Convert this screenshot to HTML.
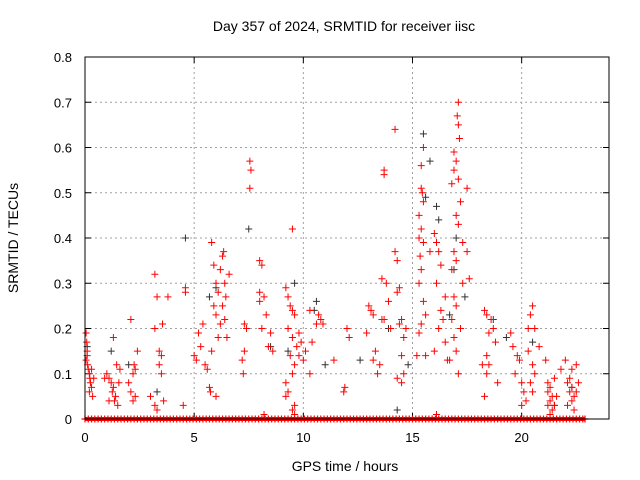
<!DOCTYPE html>
<html><head><meta charset="utf-8"><style>
body{margin:0;background:#fff}
svg{display:block;font-family:"Liberation Sans",sans-serif}
</style></head><body>
<svg id="chart" width="640" height="480">
<text x="344" y="31" font-size="14" text-anchor="middle">Day 357 of 2024, SRMTID for receiver iisc</text>
<text x="345" y="471" font-size="14" text-anchor="middle">GPS time / hours</text>
<text transform="translate(18,238) rotate(-90)" font-size="14" text-anchor="middle">SRMTID / TECUs</text>
<g id="grid"></g>
<g id="ticks"></g>
<g id="marks"></g>
<rect x="85" y="57" width="524" height="362" fill="none" stroke="#000"/>
</svg>
<script>
const xTicks=[0,5,10,15,20];
const yTicks=[0,0.1,0.2,0.3,0.4,0.5,0.6,0.7,0.8];
const redPts=[[0.05,0.19],[0.08,0.17],[0.1,0.15],[0.12,0.12],[0.15,0.11],[0.2,0.1],[0.22,0.09],[0.25,0.08],[0.3,0.07],[0.2,0.06],[0.35,0.05],[0.05,0.13],[0.1,0.14],[0.4,0.09],[0.3,0.11],
[1.0,0.1],[1.1,0.09],[1.2,0.08],[1.3,0.07],[1.25,0.06],[1.4,0.05],[1.35,0.04],[1.5,0.03],[1.45,0.12],[1.3,0.18],[1.6,0.11],[1.55,0.08],[1.1,0.04],[0.9,0.09],
[2.1,0.22],[2.2,0.1],[2.3,0.11],[2.25,0.12],[2.0,0.08],[2.1,0.06],[2.3,0.05],[2.2,0.04],[2.4,0.15],
[3.2,0.32],[3.3,0.27],[3.2,0.2],[3.4,0.15],[3.5,0.14],[3.4,0.12],[3.5,0.1],[3.0,0.05],[3.2,0.03],[3.3,0.02],[3.55,0.21],[3.8,0.27],[3.6,0.04],
[4.5,0.03],[4.6,0.28],[4.6,0.29],
[5.0,0.14],[5.1,0.13],[5.2,0.19],[5.4,0.21],[5.3,0.16],[5.6,0.11],[5.5,0.12],
[5.8,0.39],[5.9,0.34],[6.0,0.3],[6.1,0.28],[5.9,0.25],[6.0,0.23],[6.2,0.21],[6.1,0.18],[5.8,0.15],[5.7,0.07],[5.75,0.06],[6.0,0.05],[6.2,0.33],[6.3,0.36],[6.35,0.37],[6.4,0.3],[6.45,0.27],[6.3,0.25],[6.4,0.22],[6.6,0.32],[6.5,0.18],
[7.55,0.57],[7.6,0.55],[7.55,0.51],[7.3,0.21],[7.3,0.15],[7.2,0.13],[7.25,0.1],[7.4,0.2],
[8.0,0.35],[8.1,0.34],[8.0,0.28],[8.2,0.27],[8.3,0.23],[8.1,0.2],[8.5,0.19],[8.4,0.16],[8.6,0.15],[8.2,0.01],[8.0,0.26],
[9.2,0.29],[9.3,0.27],[9.4,0.25],[9.5,0.24],[9.6,0.23],[9.3,0.2],[9.5,0.18],[9.7,0.16],[9.4,0.14],[9.6,0.12],[9.5,0.1],[9.2,0.08],[9.3,0.06],[9.2,0.05],[9.6,0.03],[9.5,0.02],[9.6,0.01],[9.5,0.42],[9.8,0.19],[9.9,0.17],[9.8,0.14],
[10.3,0.24],[10.7,0.23],[10.8,0.22],[10.4,0.17],[10.1,0.15],[10.0,0.13],[10.3,0.1],[10.9,0.21],[10.6,0.21],
[11.4,0.13],[12.0,0.2],[12.1,0.18],[11.9,0.07],[11.85,0.06],
[13.0,0.25],[13.1,0.24],[13.2,0.23],[12.9,0.19],[13.3,0.15],[13.2,0.13],[13.5,0.12],[13.4,0.1],[13.6,0.22],
[13.7,0.55],[13.7,0.54],[13.6,0.31],[13.8,0.3],[13.9,0.26],[13.7,0.22],[14.0,0.2],
[14.2,0.64],[14.2,0.37],[14.3,0.35],[14.4,0.29],[14.3,0.28],[14.5,0.22],[14.4,0.21],[14.6,0.18],[14.5,0.14],[14.6,0.1],[14.3,0.09],[14.5,0.08],[14.7,0.2],
[15.4,0.51],[15.45,0.5],[15.5,0.48],[15.3,0.45],[15.4,0.42],[15.3,0.4],[15.5,0.39],[15.35,0.36],[15.4,0.33],[15.3,0.3],[15.5,0.26],[15.6,0.23],[15.4,0.21],[15.3,0.19],[15.6,0.14],[15.4,0.56],[15.5,0.6],[15.2,0.14],
[16.0,0.41],[16.1,0.39],[16.2,0.37],[16.3,0.34],[16.1,0.3],[16.5,0.27],[16.3,0.24],[16.4,0.22],[16.2,0.2],[16.5,0.17],[16.0,0.15],[16.6,0.13],[16.1,0.01],[15.8,0.37],
[17.1,0.7],[17.05,0.67],[17.1,0.65],[17.15,0.62],[16.9,0.59],[17.0,0.57],[16.9,0.55],[17.1,0.53],[16.8,0.52],[17.2,0.48],[17.0,0.45],[17.1,0.43],[17.3,0.39],[16.9,0.37],[17.0,0.35],[16.8,0.33],[17.3,0.3],[16.9,0.27],[17.0,0.25],[16.8,0.22],[17.2,0.2],[16.9,0.18],[17.0,0.15],[16.7,0.13],[17.1,0.1],[17.5,0.37],[17.6,0.31],[17.5,0.51],
[18.3,0.24],[18.4,0.23],[18.6,0.22],[18.7,0.2],[18.5,0.19],[18.8,0.17],[18.4,0.14],[18.5,0.12],[18.4,0.1],[18.9,0.08],[18.3,0.05],[18.2,0.12],
[19.5,0.19],[19.6,0.16],[19.8,0.14],[19.9,0.13],[19.7,0.1],[20.0,0.08],[20.1,0.06],[20.2,0.04],[20.0,0.03],[20.3,0.2],
[20.5,0.25],[20.4,0.23],[20.6,0.2],[20.3,0.15],[20.5,0.12],[20.6,0.1],[20.4,0.08],[20.5,0.06],[20.8,0.16],
[21.1,0.13],[21.2,0.08],[21.3,0.07],[21.2,0.06],[21.4,0.05],[21.3,0.04],[21.5,0.03],[21.4,0.02],[21.3,0.01],[21.6,0.05],[21.5,0.09],[21.2,0.03],[21.8,0.11],
[22.0,0.13],[22.3,0.11],[22.2,0.09],[22.1,0.08],[22.3,0.07],[22.2,0.06],[22.4,0.05],[22.3,0.04],[22.1,0.03],[22.4,0.02],[22.5,0.12],[22.6,0.08],[22.5,0.06]];
const blackPts=[[4.6,0.40],[7.5,0.42],[9.6,0.30],[10.6,0.26],[10.5,0.24],[15.5,0.63],[15.8,0.57],[15.6,0.49],[16.1,0.47],[16.2,0.44],[17.0,0.40],[14.3,0.02],[13.9,0.2],[12.6,0.13],[19.3,0.18],[20.5,0.17],[5.7,0.27],[6.0,0.29],[0.1,0.16],[1.2,0.15],[2.0,0.12],[3.3,0.06],[9.3,0.15],[21.5,0.03],[22.3,0.07],[18.7,0.22],[11.0,0.12],[8.5,0.16],[14.8,0.12],[16.7,0.23],[17.4,0.27],[16.9,0.33]];
const zeroT=[0,0.15,0.3,0.45,0.6,0.75,0.9,1.05,1.2,1.35,1.5,1.65,1.8,1.95,2.1,2.25,2.4,2.55,2.7,2.85,3,3.15,3.3,3.45,3.6,3.75,3.9,4.05,4.2,4.35,4.5,4.65,4.8,4.95,5.1,5.25,5.4,5.55,5.7,5.85,6,6.15,6.3,6.45,6.6,6.75,6.9,7.05,7.2,7.35,7.5,7.65,7.8,7.95,8.1,8.25,8.4,8.55,8.7,8.85,9,9.15,9.3,9.45,9.6,9.75,9.9,10.05,10.2,10.35,10.5,10.65,10.8,10.95,11.1,11.25,11.4,11.55,11.7,11.85,12,12.15,12.3,12.45,12.6,12.75,12.9,13.05,13.2,13.35,13.5,13.65,13.8,13.95,14.1,14.25,14.4,14.55,14.7,14.85,15,15.15,15.3,15.45,15.6,15.75,15.9,16.05,16.2,16.35,16.5,16.65,16.8,16.95,17.1,17.25,17.4,17.55,17.7,17.85,18,18.15,18.3,18.45,18.6,18.75,18.9,19.05,19.2,19.35,19.5,19.65,19.8,19.95,20.1,20.25,20.4,20.55,20.7,20.85,21,21.15,21.3,21.45,21.6,21.75,21.9,22.05,22.2,22.35,22.5,22.65,22.8,22.9];
const NS="http://www.w3.org/2000/svg";
const X=t=>85+t*524/24;
const Y=v=>419-v*452.5;
function el(tag,a,parent){const e=document.createElementNS(NS,tag);for(const k in a)e.setAttribute(k,a[k]);parent.appendChild(e);return e;}
const grid=document.getElementById('grid'),ticks=document.getElementById('ticks'),marks=document.getElementById('marks');
xTicks.forEach(t=>{const x=X(t);
 if(t>0){const g=el('line',{x1:x,y1:57,x2:x,y2:419,stroke:'#a0a0a0','stroke-dasharray':'2,3'},grid);}
 el('line',{x1:x,y1:419,x2:x,y2:413,stroke:'#000'},ticks);el('line',{x1:x,y1:57,x2:x,y2:63,stroke:'#000'},ticks);
 const tx=el('text',{x:x,y:442,'font-size':13,'text-anchor':'middle'},ticks);tx.textContent=t;
 
 });
yTicks.forEach(v=>{const y=Y(v);
 if(v>0&&v<0.8){const g=el('line',{x1:85,y1:y,x2:609,y2:y,stroke:'#a0a0a0','stroke-dasharray':'2,3'},grid);}
 el('line',{x1:85,y1:y,x2:91,y2:y,stroke:'#000'},ticks);el('line',{x1:609,y1:y,x2:603,y2:y,stroke:'#000'},ticks);
 const tx=el('text',{x:72,y:y+5,'font-size':13,'text-anchor':'end'},ticks);tx.textContent=v===0?'0':v.toFixed(1);
 
 });
function plus(t,v,c,w,name){const x=X(t),y=Y(v);
 const p=el('path',{d:`M${x-3.5},${y}H${x+3.5}M${x},${y-3.5}V${y+3.5}`,stroke:c,'stroke-width':w,fill:'none'},marks);
 
 }
zeroT.forEach(t=>plus(t,0,'#f00',1.2,'zero-point'));
el('rect',{x:X(0),y:417,width:X(22.9)-X(0),height:4,fill:'#f00'},marks);
blackPts.forEach(p=>plus(p[0],p[1],'#333',1,'black-point'));
redPts.forEach(p=>plus(p[0],p[1],'#f00',1,'red-point'));
</script>
</body></html>
